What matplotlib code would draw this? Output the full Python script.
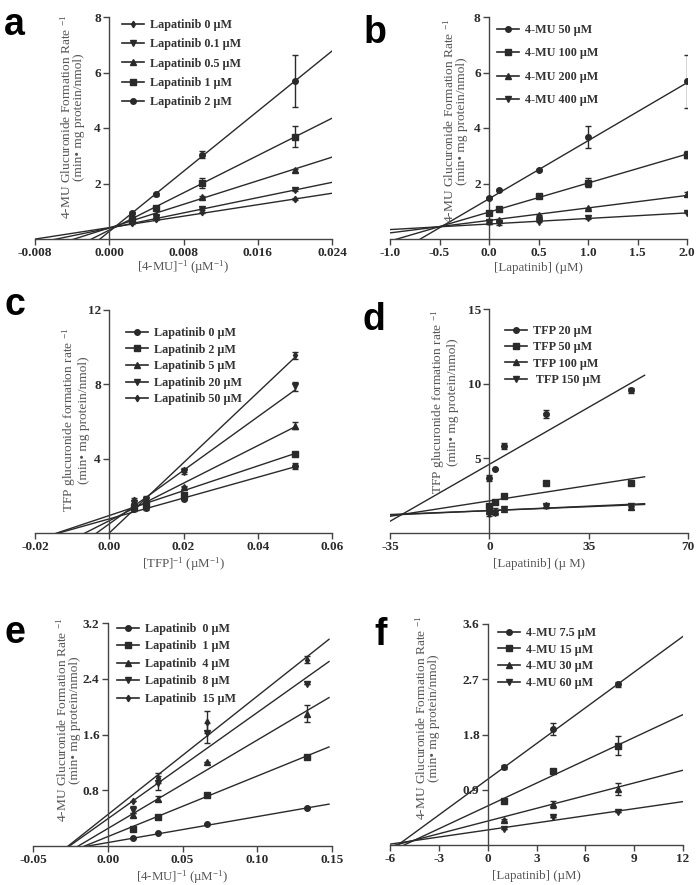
import numpy as np
import matplotlib
matplotlib.use("Agg")
import matplotlib.pyplot as plt
from matplotlib.lines import Line2D
from matplotlib.ticker import FormatStrFormatter

plt.rcParams['font.family'] = ['Liberation Serif', 'DejaVu Serif']
plt.rcParams['mathtext.fontset'] = 'custom'
plt.rcParams['mathtext.rm'] = 'Liberation Serif'
plt.rcParams['mathtext.it'] = 'Liberation Serif:italic'
plt.rcParams['axes.unicode_minus'] = False

W, H = 697, 885

# ---------------- data ----------------
# panel a : 1/[4-MU] vs 1/v, lapatinib series
a_x = [0.0025, 0.005, 0.01, 0.02]
a_labels = ['Lapatinib 0 µM', 'Lapatinib 0.1 µM', 'Lapatinib 0.5 µM', 'Lapatinib 1 µM', 'Lapatinib 2 µM']
a_y = [[0.56, 0.71, 0.96, 1.44],
       [0.62, 0.80, 1.07, 1.77],
       [0.68, 0.85, 1.50, 2.47],
       [0.72, 1.11, 2.02, 3.69],
       [0.93, 1.61, 3.04, 5.69]]
a_err = [[0.02, 0.02, 0.03, 0.03],
         [0.02, 0.08, 0.04, 0.03],
         [0.02, 0.03, 0.04, 0.04],
         [0.03, 0.04, 0.18, 0.38],
         [0.03, 0.06, 0.12, 0.95]]
a_slope = [51.6, 68.8, 106.2, 168.0, 271.0]
a_icpt = [0.41, 0.39, 0.40, 0.32, 0.27]

# panel b : Dixon plot, 4-MU series
b_x = [0, 0.1, 0.5, 1, 2]
b_labels = ['4-MU 50 µM', '4-MU 100 µM', '4-MU 200 µM', '4-MU 400 µM']
b_y = [[1.47, 1.77, 2.48, 3.68, 5.68],
       [0.95, 1.07, 1.56, 2.03, 3.04],
       [0.65, 0.68, 0.86, 1.11, 1.61],
       [0.60, 0.58, 0.62, 0.75, 0.94]]
b_err = [[0.03, 0.03, 0.04, 0.40, 0.95],
         [0.03, 0.03, 0.03, 0.17, 0.12],
         [0.02, 0.02, 0.02, 0.02, 0.07],
         [0.05, 0.06, 0.02, 0.02, 0.02]]
b_slope = [2.09, 1.045, 0.45, 0.20]
b_icpt = [1.45, 0.97, 0.67, 0.54]

# panel c : 1/[TFP] vs 1/v
c_x = [0.00667, 0.01, 0.02, 0.05]
c_labels = ['Lapatinib 0 µM', 'Lapatinib 2 µM', 'Lapatinib 5 µM', 'Lapatinib 20 µM', 'Lapatinib 50 µM']
c_y = [[1.30, 1.35, 1.85, 3.62],
       [1.40, 1.50, 2.05, 4.25],
       [1.50, 1.60, 2.49, 5.76],
       [1.60, 1.75, 3.30, 7.90],
       [1.75, 1.85, 3.40, 9.57]]
c_err = [[0.10, 0.10, 0.10, 0.15],
         [0.10, 0.10, 0.10, 0.03],
         [0.10, 0.10, 0.03, 0.19],
         [0.15, 0.15, 0.12, 0.25],
         [0.15, 0.15, 0.12, 0.18]]
c_slope = [56.0, 66.7, 101.0, 144.0, 189.0]
c_icpt = [0.76, 0.94, 0.66, 0.49, 0.0]

# panel d : Dixon plot, TFP series
d_x = [0, 2, 5, 20, 50]
d_labels = ['TFP 20 µM', 'TFP 50 µM', 'TFP 100 µM', ' TFP 150 µM']
d_y = [[3.70, 4.27, 5.83, 7.96, 9.55],
       [1.83, 2.08, 2.48, 3.33, 3.38],
       [1.45, 1.50, 1.60, 1.85, 1.72],
       [1.25, 1.35, 1.62, 1.80, 1.78]]
d_err = [[0.20, 0.00, 0.18, 0.25, 0.15],
         [0.00, 0.00, 0.00, 0.00, 0.00],
         [0.10, 0.15, 0.05, 0.08, 0.08],
         [0.12, 0.15, 0.05, 0.10, 0.05]]
d_slope = [0.109, 0.0295, 0.0075, 0.0085]
d_icpt = [4.60, 2.15, 1.50, 1.50]

# panel e : 1/[4-MU] vs 1/v
e_x = [0.01667, 0.03333, 0.06667, 0.13333]
e_labels = ['Lapatinib  0 µM', 'Lapatinib  1 µM', 'Lapatinib  4 µM', 'Lapatinib  8 µM', 'Lapatinib  15 µM']
e_y = [[0.12, 0.19, 0.31, 0.54],
       [0.244, 0.41, 0.73, 1.28],
       [0.445, 0.68, 1.21, 1.90],
       [0.52, 0.90, 1.62, 2.33],
       [0.65, 0.98, 1.78, 2.67]]
e_err = [[0.0, 0.0, 0.0, 0.0],
         [0.0, 0.0, 0.02, 0.03],
         [0.03, 0.04, 0.0, 0.12],
         [0.05, 0.10, 0.14, 0.0],
         [0.0, 0.07, 0.16, 0.05]]
e_slope = [3.73, 8.7, 12.7, 15.25, 17.0]
e_icpt = [0.049, 0.134, 0.25, 0.39, 0.45]

# panel f : Dixon plot, 4-MU series
f_x = [1, 4, 8]
f_labels = ['4-MU 7.5 µM', '4-MU 15 µM', '4-MU 30 µM', '4-MU 60 µM']
f_y = [[1.27, 1.89, 2.62],
       [0.72, 1.20, 1.62],
       [0.41, 0.66, 0.91],
       [0.26, 0.45, 0.53]]
f_err = [[0.03, 0.10, 0.04],
         [0.02, 0.02, 0.15],
         [0.02, 0.05, 0.10],
         [0.0, 0.0, 0.0]]
f_slope = [0.194, 0.124, 0.069, 0.0385]
f_icpt = [1.07, 0.636, 0.39, 0.245]

ylab_mu = '4-MU Glucuronide Formation Rate $^{-1}$\n(min• mg protein/nmol)'
ylab_tfp = 'TFP glucuronide formation rate $^{-1}$\n(min• mg protein/nmol)'

INK = '#2a2a2a'
LAB = '#555555'

fig = plt.figure(figsize=(W / 100, H / 100), dpi=100)


def px(x, y):
    return x / W, 1 - y / H


def panel(rect, letter, letter_xy, x, ys, errs, slopes, icpts, labels, markers,
          xlim, ylim, xticks, yticks, xfmt, yfmt, line_end,
          ylabel, ylab_xy, xlabel, xlab_y, leg_xy, leg_space):
    l, t, r, b = rect
    ax = fig.add_axes([l / W, 1 - b / H, (r - l) / W, (b - t) / H])
    ax.set_xlim(*xlim)
    ax.set_ylim(*ylim)
    ax.spines['top'].set_visible(False)
    ax.spines['right'].set_visible(False)
    ax.spines['left'].set_position(('data', 0))
    for s in ('left', 'bottom'):
        ax.spines[s].set_color('#444444')
        ax.spines[s].set_linewidth(1.0)
    ax.set_xticks(xticks)
    ax.set_yticks(yticks)
    ax.xaxis.set_major_formatter(FormatStrFormatter(xfmt))
    ax.yaxis.set_major_formatter(FormatStrFormatter(yfmt))
    ax.tick_params(direction='out', length=4, width=1, color='#444444',
                   labelsize=9.5, labelcolor=INK, pad=2)
    for tl in ax.get_xticklabels() + ax.get_yticklabels():
        tl.set_fontweight('bold')
    ax.patch.set_alpha(0)

    handles = []
    xs = np.array([xlim[0], line_end])
    for yv, ev, sl, ic, lab, mk in zip(ys, errs, slopes, icpts, labels, markers):
        ms = 3.3 if mk == 'd' else 4.0
        ax.plot(xs, ic + sl * xs, color=INK, lw=1.0, zorder=2)
        ax.errorbar(x, yv, yerr=ev, fmt=mk, ms=ms, color=INK, ecolor=INK,
                    elinewidth=1.0, capsize=2.5, capthick=1.0, zorder=3)
        handles.append(Line2D([], [], color=INK, lw=1.2, marker=mk, ms=ms, label=lab))

    ax.legend(handles=handles, loc='upper left', bbox_to_anchor=px(*leg_xy),
              bbox_transform=fig.transFigure, frameon=False,
              prop={'size': 8.7, 'weight': 'bold'},
              borderpad=0, borderaxespad=0, handlelength=1.8, handletextpad=0.5,
              labelspacing=leg_space, labelcolor='#333333')

    fig.text(*px(*ylab_xy), ylabel, rotation=90, ha='center', va='center',
             multialignment='center', fontsize=9.6, color=LAB, linespacing=1.0)
    fig.text(*px((l + r) / 2, xlab_y), xlabel, ha='center', va='center',
             fontsize=9.3, color=LAB)
    fig.text(*px(*letter_xy), letter, family='Liberation Sans', weight='bold',
             fontsize=27, color='black', va='baseline', ha='left')
    return ax


panel((35, 17, 332, 239), 'a', (4, 35), a_x, a_y, a_err, a_slope, a_icpt, a_labels,
      ['d', 'v', '^', 's', 'o'], (-0.008, 0.024), (0, 8),
      [-0.008, 0, 0.008, 0.016, 0.024], [2, 4, 6, 8], '%.3f', '%d', 0.024,
      ylab_mu, (72, 117), '[4-MU]$^{-1}$ (µM$^{-1}$)', 267, (122, 19), 0.6)

panel((390, 17, 687, 239), 'b', (364, 43), b_x, b_y, b_err, b_slope, b_icpt, b_labels,
      ['o', 's', '^', 'v'], (-1.0, 2.0), (0, 8),
      [-1.0, -0.5, 0, 0.5, 1.0, 1.5, 2.0], [2, 4, 6, 8], '%.1f', '%d', 2.0,
      ylab_mu, (455, 121), '[Lapatinib] (µM)', 268, (497, 24), 0.95)

panel((35, 310, 332, 533), 'c', (4, 315), c_x, c_y, c_err, c_slope, c_icpt, c_labels,
      ['o', 's', '^', 'v', 'd'], (-0.02, 0.06), (0, 12),
      [-0.02, 0, 0.02, 0.04, 0.06], [4, 8, 12], '%.2f', '%d', 0.05,
      ylab_tfp, (75, 420), '[TFP]$^{-1}$ (µM$^{-1}$)', 564, (126, 327), 0.38)

panel((390, 309, 688, 533), 'd', (362, 330), d_x, d_y, d_err, d_slope, d_icpt, d_labels,
      ['o', 's', '^', 'v'], (-35, 70), (0, 15),
      [-35, 0, 35, 70], [5, 10, 15], '%d', '%d', 54.7,
      ylab_tfp, (444, 402), '[Lapatinib] (µ M)', 564, (505, 325), 0.36)

panel((33, 623, 332, 846), 'e', (4, 643), e_x, e_y, e_err, e_slope, e_icpt, e_labels,
      ['o', 's', '^', 'v', 'd'], (-0.05, 0.15), (0, 3.2),
      [-0.05, 0, 0.05, 0.10, 0.15], [0.8, 1.6, 2.4, 3.2], '%.2f', '%.1f', 0.148,
      ylab_mu, (68, 720), '[4-MU]$^{-1}$ (µM$^{-1}$)', 877, (117, 623), 0.45)

panel((390, 624, 683, 845), 'f', (374, 645), f_x, f_y, f_err, f_slope, f_icpt, f_labels,
      ['o', 's', '^', 'v'], (-6, 12), (0, 3.6),
      [-6, -3, 0, 3, 6, 9, 12], [0.9, 1.8, 2.7, 3.6], '%d', '%.1f', 12,
      ylab_mu, (427, 718), '[Lapatinib] (µM)', 876, (498, 627), 0.38)

fig.savefig('out.png', dpi=100)
